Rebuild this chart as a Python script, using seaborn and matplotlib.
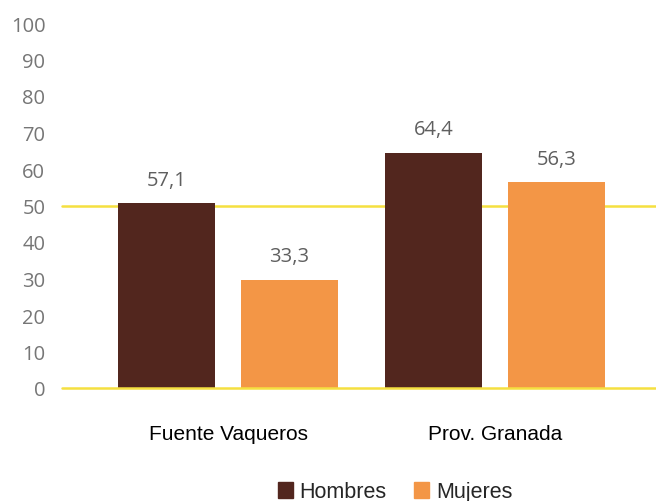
import matplotlib.pyplot as plt
import pandas as pd
import seaborn as sns

# data
zonas = ["Fuente Vaqueros", "Prov. Granada"]
sexos = ["Hombres", "Mujeres"]
alturas_hombres = [50.6, 64.4]   # drawn bar heights
alturas_mujeres = [29.7, 56.4]
etiquetas_hombres = ["57,1", "64,4"]  # printed data labels
etiquetas_mujeres = ["33,3", "56,3"]
y_ticks = list(range(0, 101, 10))
lineas_ref = [0, 50]

colores = {"Hombres": "#52261e", "Mujeres": "#f39646"}

df = pd.DataFrame(
    {
        "zona": zonas * 2,
        "sexo": [sexos[0]] * 2 + [sexos[1]] * 2,
        "valor": alturas_hombres + alturas_mujeres,
        "etiqueta": etiquetas_hombres + etiquetas_mujeres,
    }
)

sns.set_style("white")
plt.rcParams["font.family"] = ["Open Sans", "DejaVu Sans"]

fig = plt.figure(figsize=(6.56, 5.02), dpi=100)
ax = fig.add_axes([62 / 656, (502 - 389) / 502, 1 - 62 / 656, (389 - 24) / 502])

for y in lineas_ref:
    ax.axhline(y, color="#f5e040", linewidth=1.8, zorder=3 if y == 0 else 0, clip_on=False)

sns.barplot(
    data=df, x="zona", y="valor", hue="sexo", order=zonas, hue_order=sexos,
    palette=colores, width=0.921, gap=0.213, saturation=1, linewidth=0,
    legend=False, ax=ax,
)

for cont, sexo in zip(ax.containers, sexos):
    labels = df[df["sexo"] == sexo]["etiqueta"].tolist()
    for bar, lab in zip(cont, labels):
        ax.annotate(
            lab, (bar.get_x() + bar.get_width() / 2, bar.get_height()),
            xytext=(0, 17), textcoords="offset points", ha="center", va="center",
            fontsize=14.5, color="#5f5f5f",
        )

ax.set_ylim(0, 100)
ax.set_xlim(-0.622, 1.603)
ax.set_yticks(y_ticks)
ax.tick_params(axis="y", length=0, pad=12, labelsize=14.5, labelcolor="#767676")
ax.tick_params(axis="x", length=0, pad=26)
for lab in ax.get_xticklabels():
    lab.set_fontfamily(["Liberation Sans", "DejaVu Sans"])
    lab.set_fontsize(15)
    lab.set_color("black")
ax.set_xlabel("")
ax.set_ylabel("")
sns.despine(ax=ax, left=True, bottom=True)

handles = [plt.Rectangle((0, 0), 1, 1, color=colores[s]) for s in sexos]
fig.legend(
    handles, sexos, loc="center", bbox_to_anchor=(395 / 656, 1 - 493 / 502),
    ncol=2, frameon=False, handlelength=0.7, handleheight=0.7, handletextpad=0.3,
    columnspacing=1.3, prop={"family": ["Liberation Sans", "DejaVu Sans"], "size": 15.5},
)

fig.savefig("out.png", dpi=100)
